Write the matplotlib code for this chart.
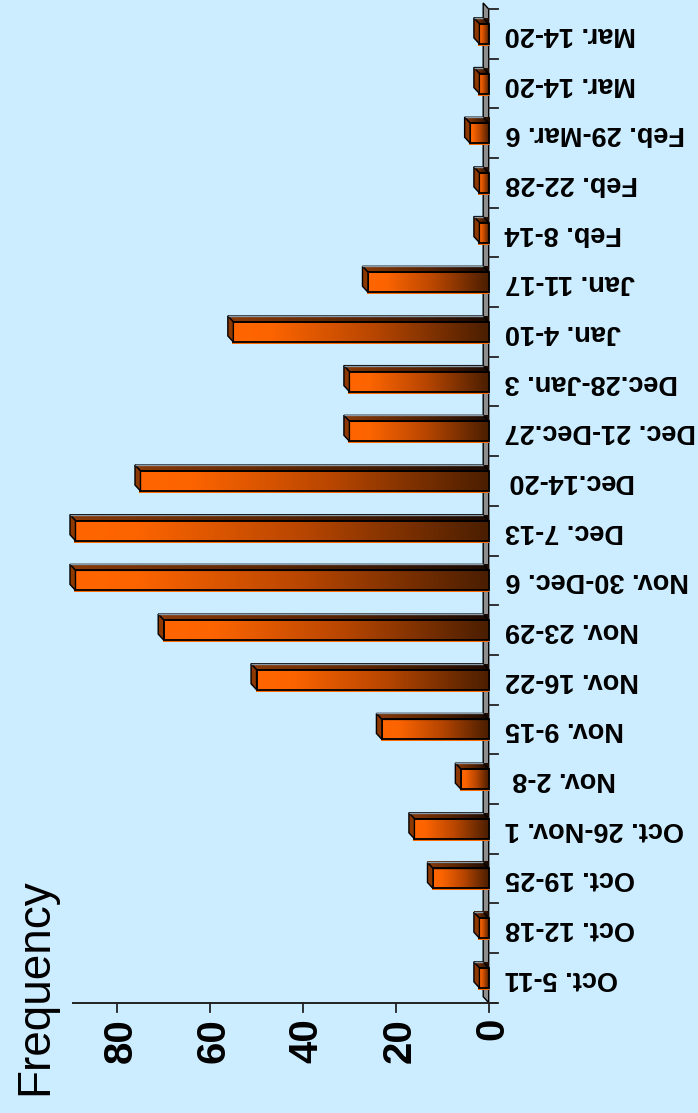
import numpy as np
import matplotlib
matplotlib.use("Agg")
import matplotlib.pyplot as plt
from matplotlib.patches import Polygon, Rectangle
from matplotlib.colors import LinearSegmentedColormap
import matplotlib.transforms as mtransforms

# ---------------- data ----------------
categories = ["Oct. 5-11", "Oct. 12-18", "Oct. 19-25", "Oct. 26-Nov. 1", "Nov. 2-8 ",
              "Nov. 9-15", "Nov. 16-22", "Nov. 23-29", "Nov. 30-Dec. 6", "Dec. 7-13",
              "Dec.14-20", "Dec. 21-Dec.27", "Dec.28-Jan. 3", "Jan. 4-10", "Jan. 11-17",
              "Feb. 8-14", "Feb. 22-28", "Feb. 29-Mar. 6", "Mar. 14-20", "Mar. 14-20"]
frequency = [2, 2, 12, 16, 6, 23, 50, 70, 89, 89, 75, 30, 30, 55, 26, 2, 2, 4, 2, 2]
value_ticks = [0, 20, 40, 60, 80]
value_tick_labels = ["0", "20", "40", "60", "80"]
axis_label = "Frequency"

# ---------------- figure ----------------
W, H = 698, 1113
bg = "#CCECFF"
fig = plt.figure(figsize=(W / 100, H / 100), dpi=100, facecolor=bg)
ax_left, ax_right = 72.7, 488.7
ax_top, ax_bot = 9.0, 1002.7
ax = fig.add_axes([ax_left / W, 1 - ax_bot / H, (ax_right - ax_left) / W, (ax_bot - ax_top) / H])
ax.set_facecolor("none")
ax.axis("off")

xmax = 89.6
n = len(categories)
ax.set_xlim(xmax, 0)
ax.set_ylim(-0.5, n - 0.5)

px_x = (ax_right - ax_left) / xmax          # pixels per value unit
px_y = (ax_bot - ax_top) / n                # pixels per category
dx = 5.5 / px_x                             # depth offset (towards larger values)
dy = 6.0 / px_y                             # depth offset (upwards)
h = 10.0 / px_y                             # half bar height

front_cmap = LinearSegmentedColormap.from_list(
    "front", [(0.0, "#FF6600"), (0.15, "#FC6400"), (0.55, "#B84600"), (1.0, "#4A1E00")])
top_cmap = LinearSegmentedColormap.from_list(
    "top", [(0.0, "#8A3A08"), (0.5, "#5A2400"), (1.0, "#1C0A00")])

# grey 3D wall along the category axis
wall = Polygon([(0, -0.5), (dx, -0.5 + dy), (dx, n - 0.5 + dy), (0, n - 0.5)],
               closed=True, facecolor="#8E8E8E", edgecolor="black", lw=1.0,
               zorder=1, clip_on=False)
ax.add_patch(wall)

grad = np.linspace(0, 1, 256).reshape(1, -1)
for i, v in enumerate(frequency):
    # orange shadow under front face
    ax.add_patch(Rectangle((v + 1.0 / px_x, i - h - 2.0 / px_y), -v - 1.0 / px_x, 2 * h,
                           facecolor="#FF6A00", edgecolor="none", zorder=2, clip_on=False))
    # front face with gradient
    im = ax.imshow(grad, extent=(v, 0, i - h, i + h), cmap=front_cmap, aspect="auto",
                   interpolation="bilinear", zorder=3, clip_on=False)
    front = Rectangle((0, i - h), v, 2 * h, facecolor="none", edgecolor="black",
                      lw=1.3, zorder=4, clip_on=False)
    ax.add_patch(front)
    # top face
    top_poly = Polygon([(0, i + h), (v, i + h), (v + dx, i + h + dy), (dx, i + h + dy)],
                       closed=True, facecolor="none", edgecolor="black", lw=1.0,
                       zorder=4, clip_on=False)
    ax.add_patch(top_poly)
    im2 = ax.imshow(grad, extent=(v + dx, 0, i + h, i + h + dy), cmap=top_cmap,
                    aspect="auto", interpolation="bilinear", zorder=3, clip_on=False)
    im2.set_clip_path(top_poly)
    ax.plot([v + dx, dx], [i + h + dy, i + h + dy], color="#8898A4", lw=1.0,
            zorder=4.5, clip_on=False, solid_capstyle="butt")
    # left end face
    ax.add_patch(Polygon([(v, i - h), (v, i + h), (v + dx, i + h + dy), (v + dx, i - h + dy)],
                         closed=True, facecolor="#8C3800", edgecolor="black", lw=1.0,
                         zorder=4, clip_on=False))

ax.set_xlim(xmax, 0)
ax.set_ylim(-0.5, n - 0.5)

# value axis line and ticks
ax.plot([xmax, -8.0 / px_x], [-0.5, -0.5], color="#222222", lw=1.4, zorder=6, clip_on=False)
for v in value_ticks:
    ax.plot([v, v], [-0.5, -0.5 - 9.0 / px_y], color="#222222", lw=1.3, zorder=6, clip_on=False)

# category ticks
for b in np.arange(-0.5, n, 1.0):
    ax.plot([0, -9.0 / px_x], [b, b], color="#222222", lw=1.3, zorder=6, clip_on=False)

# value tick labels (rotated 90)
off = mtransforms.offset_copy(ax.get_xaxis_transform(), fig=fig, x=3.5, y=0, units="dots")
for v, lab in zip(value_ticks, value_tick_labels):
    ax.text(v, -15.3 / (ax_bot - ax_top), lab, transform=off, rotation=90,
            ha="center", va="top", fontsize=29, fontweight="bold",
            family="Liberation Sans", color="black")

# category labels (rotated 180)
lab_x = 1 + (505 - ax_right) / (ax_right - ax_left)
for i, c in enumerate(categories):
    ax.text(lab_x, i, c, transform=ax.get_yaxis_transform(), rotation=180,
            ha="left", va="center", fontsize=19.5, fontweight="bold",
            family="Liberation Sans", color="black")

# axis title
fig.text(35 / W, 1 - 986.5 / H, axis_label, rotation=90, ha="center", va="center",
         fontsize=33, family="Liberation Sans", color="black")

fig.savefig("out.png", dpi=100, facecolor=bg)
